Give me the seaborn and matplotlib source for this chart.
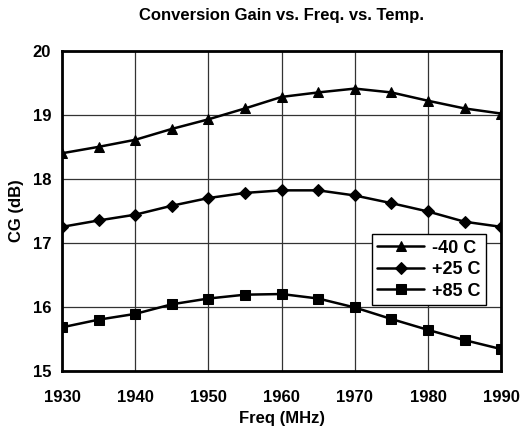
import matplotlib
matplotlib.use("Agg")
import matplotlib.pyplot as plt
import pandas as pd
import seaborn as sns

freq = [1930, 1935, 1940, 1945, 1950, 1955, 1960, 1965, 1970, 1975, 1980, 1985, 1990]
cg_m40 = [18.40, 18.50, 18.61, 18.78, 18.93, 19.10, 19.28, 19.35, 19.41, 19.35, 19.22, 19.10, 19.02]
cg_p25 = [17.25, 17.35, 17.44, 17.58, 17.70, 17.78, 17.82, 17.82, 17.74, 17.62, 17.49, 17.33, 17.25]
cg_p85 = [15.68, 15.80, 15.89, 16.04, 16.13, 16.19, 16.20, 16.13, 15.99, 15.81, 15.64, 15.48, 15.34]
temps = ["-40 C", "+25 C", "+85 C"]
x_ticks = [1930, 1940, 1950, 1960, 1970, 1980, 1990]
y_ticks = [15, 16, 17, 18, 19, 20]

df = pd.concat([
    pd.DataFrame({"freq": freq, "cg": vals, "temp": t})
    for t, vals in zip(temps, [cg_m40, cg_p25, cg_p85])
])

sns.set_style("white")
plt.rcParams["font.family"] = ["Liberation Sans Narrow", "Liberation Sans", "DejaVu Sans"]
plt.rcParams["font.weight"] = "bold"
plt.rcParams["text.color"] = "black"
plt.rcParams["axes.labelcolor"] = "black"
plt.rcParams["xtick.color"] = "black"
plt.rcParams["ytick.color"] = "black"

fig = plt.figure(figsize=(5.22, 4.42), dpi=100)
ax = fig.add_axes([0.119, 0.161, 0.841, 0.724])

sns.lineplot(data=df, x="freq", y="cg", hue="temp", style="temp",
             palette=["black"] * 3, markers=["^", "D", "s"], dashes=False,
             markersize=7, linewidth=1.8, markeredgecolor="black", ax=ax)

# diamonds look a touch smaller in the original
for line in ax.lines:
    if line.get_marker() == "D":
        line.set_markersize(6)

ax.set_xlim(1930, 1990)
ax.set_ylim(15, 20)
ax.set_xticks(x_ticks)
ax.set_yticks(y_ticks)
ax.grid(True, color="#333333", linewidth=0.9)
for s in ax.spines.values():
    s.set_color("black")
    s.set_linewidth(2)
ax.tick_params(axis="both", direction="out", length=4, width=1, labelsize=12, pad=10)
ax.tick_params(axis="y", pad=4)

ax.set_xlabel("Freq (MHz)", fontsize=12, fontweight="bold", labelpad=4)
ax.set_ylabel("CG (dB)", fontsize=12, fontweight="bold", labelpad=6)
ax.set_title("Conversion Gain vs. Freq. vs. Temp.", fontsize=12, fontweight="bold", pad=22)

leg = ax.legend(loc="center right", bbox_to_anchor=(0.985, 0.316), fontsize=13,
                frameon=True, fancybox=False, edgecolor="black", framealpha=1,
                handlelength=2.6, borderpad=0.3, labelspacing=0.25, handletextpad=0.4)
leg.get_frame().set_linewidth(1)

fig.savefig("out.png", dpi=100)
